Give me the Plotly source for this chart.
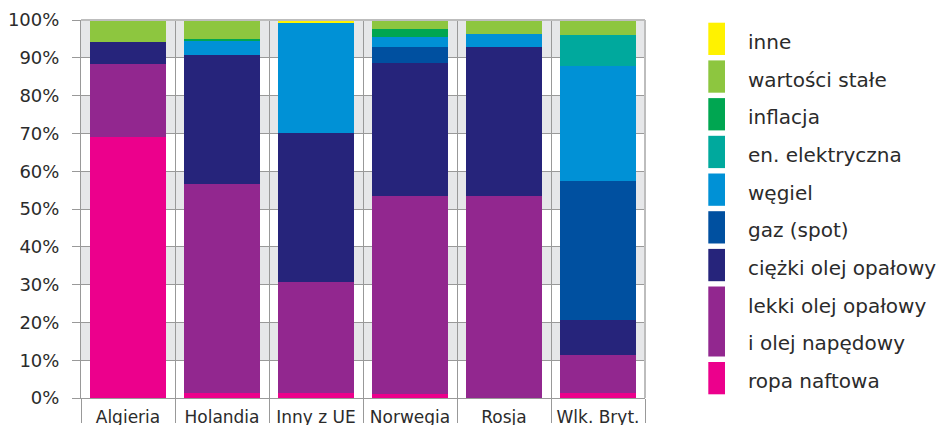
import plotly.graph_objects as go

categories = ["Algieria", "Holandia", "Inny z UE", "Norwegia", "Rosja", "Wlk. Bryt."]

# series, stacked bottom -> top (percent)
ropa_naftowa = [69.0, 1.2, 1.3, 1.1, 0.0, 1.2]
lekki_olej = [19.4, 55.4, 29.5, 52.3, 53.4, 10.2]
ciezki_olej = [5.8, 34.1, 39.3, 35.2, 39.5, 9.2]
gaz_spot = [0.0, 0.0, 0.0, 4.3, 0.0, 36.8]
wegiel = [0.0, 3.9, 29.2, 2.6, 3.4, 30.4]
en_elektryczna = [0.0, 0.0, 0.0, 0.0, 0.0, 8.2]
inflacja = [0.0, 0.4, 0.0, 2.1, 0.0, 0.0]
wartosci_stale = [5.8, 5.0, 0.0, 2.4, 3.7, 4.0]
inne = [0.0, 0.0, 0.7, 0.0, 0.0, 0.0]

series_values = [ropa_naftowa, lekki_olej, ciezki_olej, gaz_spot, wegiel,
                 en_elektryczna, inflacja, wartosci_stale, inne]
series_labels = [["ropa naftowa"], ["lekki olej opałowy", "i olej napędowy"],
                 ["ciężki olej opałowy"], ["gaz (spot)"], ["węgiel"],
                 ["en. elektryczna"], ["inflacja"], ["wartości stałe"], ["inne"]]
series_colors = ["#ec008c", "#92278f", "#26247b", "#0050a0", "#0091d6",
                 "#00a99d", "#00a651", "#8dc63f", "#fff200"]

y_ticks = list(range(0, 101, 10))
y_ticklabels = [f"{v}%" for v in y_ticks]

W, H = 941, 425
L, R, T, B = 81, 296, 20, 27
pw, ph = W - L - R, H - T - B

def xp(px):
    return (px - L) / pw

def yp(py):
    return (H - B - py) / ph

fig = go.Figure()
for vals, lab, col in zip(series_values, series_labels, series_colors):
    fig.add_trace(go.Bar(x=categories, y=vals, name=" ".join(lab),
                         marker=dict(color=col, line=dict(width=0)),
                         showlegend=False))

shapes = []
# alternating grey bands
for i in range(1, len(y_ticks) - 1, 2):
    shapes.append(dict(type="rect", xref="paper", yref="y", x0=0, x1=1,
                       y0=y_ticks[i], y1=y_ticks[i + 1], fillcolor="#e6e7e9",
                       line=dict(width=0), layer="below"))
# top / right border
shapes.append(dict(type="line", xref="paper", yref="paper", x0=0, x1=1, y0=1, y1=1,
                   line=dict(color="#bdbdbd", width=2)))
shapes.append(dict(type="line", xref="paper", yref="paper", x0=1, x1=1, y0=0, y1=1,
                   line=dict(color="#bdbdbd", width=2)))

annotations = []
row_h = 37.7
sw_h = 32.3
top0 = 22.7
row = 0
for lab, col in reversed(list(zip(series_labels, series_colors))):
    n = len(lab)
    y_top = top0 + row_h * row
    y_bot = y_top + row_h * (n - 1) + sw_h
    shapes.append(dict(type="rect", xref="paper", yref="paper",
                       x0=xp(708.3), x1=xp(725), y0=yp(y_bot), y1=yp(y_top),
                       fillcolor=col, line=dict(width=0)))
    for k, line in enumerate(lab):
        yc = y_top + row_h * k + sw_h / 2 + 3
        annotations.append(dict(xref="paper", yref="paper", x=xp(746), y=yp(yc),
                                xanchor="left", yanchor="middle", text=line,
                                showarrow=False,
                                font=dict(family="DejaVu Sans", size=20, color="#2b2b2b")))
    row += n

fig.update_layout(
    width=W, height=H,
    margin=dict(l=L, r=R, t=T, b=B, pad=0, autoexpand=False),
    barmode="stack", bargap=0.19,
    plot_bgcolor="white", paper_bgcolor="white",
    shapes=shapes, annotations=annotations,
    font=dict(family="DejaVu Sans", color="#2b2b2b"),
)
fig.update_xaxes(type="category", tickson="boundaries", ticks="outside", ticklen=24,
                 tickcolor="#999999", tickwidth=1, showgrid=True, gridcolor="#999999",
                 gridwidth=1, showline=True, linecolor="#999999", linewidth=1,
                 ticklabelstandoff=4, automargin=False,
                 tickfont=dict(size=17, color="#2b2b2b"), fixedrange=True)
fig.update_yaxes(range=[0, 100], tickvals=y_ticks, ticktext=y_ticklabels,
                 ticks="outside", ticklen=8, tickcolor="#999999", showgrid=True,
                 gridcolor="#999999", gridwidth=1, showline=True, linecolor="#999999",
                 linewidth=1, zeroline=False, automargin=False, ticklabelstandoff=9,
                 tickfont=dict(size=18, color="#2b2b2b"), fixedrange=True)

fig.write_html("out.html")
